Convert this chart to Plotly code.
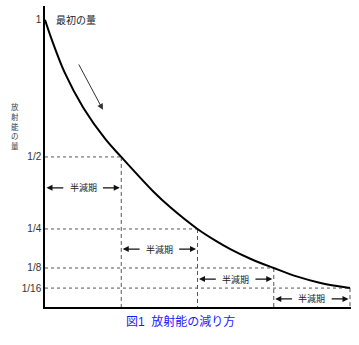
import plotly.graph_objects as go

# ---- data ----
# x in units of half-lives, y as fraction of the initial amount (positions as drawn)
curve_t = [0, 0.09, 0.26, 0.50, 0.79, 1.0, 1.42, 1.64, 2.0, 2.23, 2.43, 2.70, 3.0, 3.30, 3.60, 4.0]
curve_v = [0.957, 0.89, 0.78, 0.665, 0.56, 0.50, 0.385, 0.333, 0.26, 0.222, 0.193, 0.160, 0.13, 0.102, 0.081, 0.063]

steps = [0, 1, 2, 3, 4]
levels = [0.957, 0.50, 0.26, 0.13, 0.063]
level_labels = ["1", "1/2", "1/4", "1/8", "1/16"]
halflife_rows = [0.397, 0.193, 0.093, 0.027]
halflife_label = "半減期"
start_label = "最初の量"
time_label = "時間"
y_title = "放射能の量"
fig_title = "図1  放射能の減り方"

FONT = "Arial, Liberation Sans, Noto Sans CJK JP, sans-serif"
DASH_COL = "#555555"

fig = go.Figure()

# dashed guide lines
for i in range(1, 5):
    fig.add_trace(go.Scatter(x=[0, steps[i]], y=[levels[i], levels[i]], mode="lines",
                             line=dict(color=DASH_COL, width=1, dash="3px,3px"),
                             hoverinfo="skip", showlegend=False))
    fig.add_trace(go.Scatter(x=[steps[i], steps[i]], y=[levels[i], 0], mode="lines",
                             line=dict(color=DASH_COL, width=1, dash="4px,3px"),
                             hoverinfo="skip", showlegend=False))

# decay curve
fig.add_trace(go.Scatter(x=curve_t, y=curve_v, mode="lines",
                         line=dict(color="black", width=2, shape="spline", smoothing=1.0),
                         hoverinfo="skip", showlegend=False))

ann = []
gap = 0.24
for k, row in enumerate(halflife_rows):
    mid = steps[k] + 0.5
    ann.append(dict(x=mid, y=row, xref="x", yref="y", text=halflife_label, showarrow=False,
                    font=dict(size=9, color="#222", family=FONT)))
    for head, tail in ((steps[k] + 0.02, mid - gap), (steps[k + 1] - 0.02, mid + gap)):
        ann.append(dict(x=head, y=row, ax=tail, ay=row, xref="x", yref="y", axref="x", ayref="y",
                        text="", showarrow=True, arrowhead=2, arrowsize=1, arrowwidth=1.2,
                        arrowcolor="#111"))

# initial amount label
ann.append(dict(x=0.12, y=levels[0], xref="x", yref="y", text=start_label, showarrow=False,
                xanchor="left", font=dict(size=10, color="#222", family=FONT)))
# direction arrow
ann.append(dict(x=0.76, y=0.657, ax=0.433, ay=0.813, xref="x", yref="y", axref="x", ayref="y",
                text="", showarrow=True, arrowhead=2, arrowsize=1.2, arrowwidth=1,
                arrowcolor="#333"))
# time arrow and label
ann.append(dict(x=3.15, y=-0.033, ax=2.66, ay=-0.033, xref="x", yref="y", axref="x", ayref="y",
                text="", showarrow=True, arrowhead=2, arrowsize=1, arrowwidth=1,
                arrowcolor="#222"))
ann.append(dict(x=3.18, y=-0.033, xref="x", yref="y", text=time_label, showarrow=False,
                xanchor="left", font=dict(size=9, color="#222", family=FONT)))
# y-axis title (vertical)
ann.append(dict(x=-0.118, y=0.6, xref="paper", yref="paper",
                text="<br>".join(list(y_title)), showarrow=False,
                font=dict(size=7.5, color="#444", family=FONT)))
# figure caption
ann.append(dict(x=0.444, y=-0.08, xref="paper", yref="paper", text=fig_title, showarrow=False,
                font=dict(size=12, color="#1a1aff", family=FONT)))

fig.update_layout(
    width=359, height=345,
    margin=dict(l=45, r=8, t=6, b=38),
    paper_bgcolor="white", plot_bgcolor="white",
    xaxis=dict(range=[0, 4.013], showgrid=False, zeroline=False, showticklabels=False,
               ticks="", showline=True, linecolor="black", linewidth=2),
    yaxis=dict(range=[0, 1.003], showgrid=False, zeroline=False,
               tickvals=levels, ticktext=level_labels, ticks="",
               tickfont=dict(size=10, color="#333", family=FONT),
               showline=True, linecolor="black", linewidth=1.5),
    annotations=ann,
)

fig.write_html("out.html")
